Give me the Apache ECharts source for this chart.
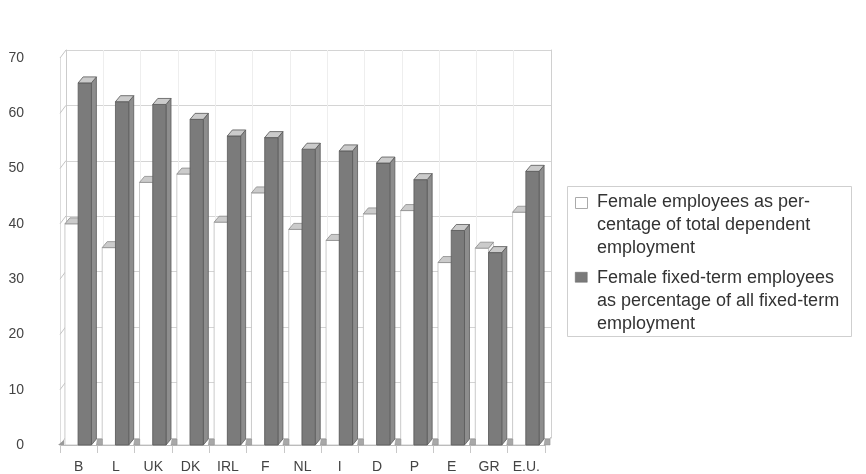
<!DOCTYPE html>
<html>
<head>
<meta charset="utf-8">
<script src="https://cdn.jsdelivr.net/npm/echarts@6/dist/echarts.min.js"></script>
<style>
  html, body { margin: 0; padding: 0; background: #fff; }
  #chart { width: 866px; height: 474px; }
</style>
</head>
<body>
<div id="chart"></div>
<script>
// Member states plus the E.U. average
const countries = ['B', 'L', 'UK', 'DK', 'IRL', 'F', 'NL', 'I', 'D', 'P', 'E', 'GR', 'E.U.'];
// Female employees as % of total dependent employment
const femaleShare = [40.0, 35.7, 47.5, 49.0, 40.3, 45.6, 39.0, 37.0, 41.8, 42.4, 33.0, 35.6, 42.1];
// Female fixed-term employees as % of all fixed-term employment
const femaleFixedTermShare = [65.5, 62.1, 61.6, 58.9, 55.9, 55.6, 53.5, 53.2, 51.0, 48.0, 38.8, 34.8, 49.5];
// Value axis ticks
const valueTicks = [0, 10, 20, 30, 40, 50, 60, 70];
const seriesNames = [
  'Female employees as percentage of total dependent employment',
  'Female fixed-term employees as percentage of all fixed-term employment'
];
const legendLines = [
  ['Female employees as per-', 'centage of total dependent', 'employment'],
  ['Female fixed-term employees', 'as percentage of all fixed-term', 'employment']
];

const FONT = '"Liberation Sans", Arial, Helvetica, sans-serif';
const WALL_DX = 6, WALL_DY = -8;   // back wall offset
const BAR_DX = 5, BAR_DY = -6;     // bar depth

const chart = echarts.init(document.getElementById('chart'), null, { renderer: 'canvas' });

// Pseudo-3D column: front face, right side, top cap
function barRenderer(kind) {
  return function (params, api) {
    const idx = api.value(0);
    const v = api.value(1);
    const top = api.coord([idx, v]);
    const base = api.coord([idx, 0]);
    const band = api.size([1, 0])[0];
    const c = top[0];
    const w = band * 0.355;
    const x0 = kind === 0 ? c - w - 0.5 : c - 0.5;
    const x1 = x0 + w;
    const yT = top[1], yB = base[1];
    const dark = kind === 1;
    const children = [
      {
        type: 'polygon',
        shape: { points: [[x1, yB], [x1 + BAR_DX, yB + BAR_DY], [x1 + BAR_DX, yT + BAR_DY], [x1, yT]] },
        style: { fill: dark ? '#8d8d8d' : '#f4f4f4', stroke: dark ? '#5a5a5a' : '#bbbbbb', lineWidth: 0.8 }
      },
      {
        type: 'rect',
        shape: { x: x0, y: yT, width: w, height: yB - yT },
        style: { fill: dark ? '#7b7b7b' : '#ffffff', stroke: dark ? '#5a5a5a' : '#bdbdbd', lineWidth: 0.8 }
      },
      {
        type: 'polygon',
        shape: { points: [[x0, yT], [x1, yT], [x1 + BAR_DX, yT + BAR_DY], [x0 + BAR_DX, yT + BAR_DY]] },
        style: { fill: '#cbcbcb', stroke: dark ? '#555555' : '#8a8a8a', lineWidth: 0.8 }
      }
    ];
    if (dark) {
      // small floor patch behind the column
      children.push({
        type: 'polygon',
        shape: { points: [[x1 + BAR_DX, yB], [x1 + BAR_DX + 6, yB], [x1 + BAR_DX + 6, yB - 6], [x1 + BAR_DX + 1, yB - 6]] },
        style: { fill: '#a8a8a8', stroke: '#8e8e8e', lineWidth: 0.5 }
      });
    }
    return { type: 'group', children: children };
  };
}

// Slanted tick marks on the left wall, right floor edge
function frameRenderer(params, api) {
  const v = api.value(0);
  const p = api.coord([0, v]);
  const left = params.coordSys.x;
  const right = params.coordSys.x + params.coordSys.width;
  const children = [{
    type: 'line',
    shape: { x1: left, y1: p[1], x2: left + WALL_DX, y2: p[1] + WALL_DY },
    style: { stroke: '#c4c4c4', lineWidth: 1 }
  }];
  if (v === 0) {
    children.push({
      type: 'line',
      shape: { x1: right, y1: p[1], x2: right + WALL_DX, y2: p[1] + WALL_DY },
      style: { stroke: '#c4c4c4', lineWidth: 1 }
    });
    children.push({
      type: 'polygon',
      shape: { points: [[left - 2, p[1]], [left + 4, p[1]], [left + 4, p[1] - 5]] },
      style: { fill: '#9a9a9a' }
    });
  }
  return { type: 'group', children: children, silent: true };
}

const legendGraphic = [
  {
    type: 'rect', left: 567, top: 186,
    shape: { width: 284, height: 150 },
    style: { fill: '#fff', stroke: '#cfcfcf', lineWidth: 1 }
  },
  {
    type: 'rect', left: 575, top: 197,
    shape: { width: 12, height: 11 },
    style: { fill: '#fff', stroke: '#aaaaaa', lineWidth: 1 }
  },
  {
    type: 'rect', left: 575, top: 272,
    shape: { width: 12, height: 10 },
    style: { fill: '#7a7a7a', stroke: '#666', lineWidth: 0.5 }
  },
  {
    type: 'text', left: 597, top: 191,
    style: { text: legendLines[0].join('\n'), font: '18px ' + FONT, lineHeight: 23, fill: '#333' }
  },
  {
    type: 'text', left: 597, top: 267,
    style: { text: legendLines[1].join('\n'), font: '18px ' + FONT, lineHeight: 23, fill: '#333' }
  }
];

const option = {
  backgroundColor: '#ffffff',
  animation: false,
  textStyle: { fontFamily: FONT },
  grid: [
    { left: 60, right: 321, top: 58, bottom: 28 },
    { left: 60 + WALL_DX, right: 321 - WALL_DX, top: 58 + WALL_DY, bottom: 28 - WALL_DY }
  ],
  xAxis: [
    {
      type: 'category', gridIndex: 0, data: countries,
      axisLine: { show: true, lineStyle: { color: '#bdbdbd', width: 1 } },
      axisTick: { show: true, length: 8, lineStyle: { color: '#c8c8c8' } },
      axisLabel: { color: '#444', fontSize: 14, margin: 15, fontFamily: FONT, interval: 0 },
      splitLine: { show: false }
    },
    {
      type: 'category', gridIndex: 1, data: countries,
      axisLine: { show: false }, axisTick: { show: false }, axisLabel: { show: false },
      splitLine: { show: true, lineStyle: { color: '#eeeeee', width: 1 } }
    }
  ],
  yAxis: [
    {
      type: 'value', gridIndex: 0, min: 0, max: 70, interval: 10,
      axisLine: { show: true, lineStyle: { color: '#dddddd' } },
      axisTick: { show: false },
      splitLine: { show: false },
      axisLabel: { color: '#444', fontSize: 14, margin: 36, fontFamily: FONT }
    },
    {
      type: 'value', gridIndex: 1, min: 0, max: 70, interval: 10,
      axisLine: { show: true, lineStyle: { color: '#cccccc' } },
      axisTick: { show: false }, axisLabel: { show: false },
      splitLine: { show: true, lineStyle: { color: '#d4d4d4', width: 1 } }
    },
    {
      type: 'value', gridIndex: 1, min: 0, max: 70, interval: 10, position: 'right',
      axisLine: { show: true, lineStyle: { color: '#d0d0d0' } },
      axisTick: { show: false }, axisLabel: { show: false }, splitLine: { show: false }
    }
  ],
  graphic: legendGraphic,
  series: [
    {
      type: 'custom', name: 'frame', xAxisIndex: 0, yAxisIndex: 0,
      data: valueTicks.map(v => [v]),
      encode: { y: 0 },
      renderItem: frameRenderer, silent: true, z: 1
    },
    {
      type: 'custom', name: seriesNames[0], xAxisIndex: 0, yAxisIndex: 0,
      data: countries.map((c, i) => [i, femaleShare[i]]),
      encode: { x: 0, y: 1 },
      renderItem: barRenderer(0), z: 2
    },
    {
      type: 'custom', name: seriesNames[1], xAxisIndex: 0, yAxisIndex: 0,
      data: countries.map((c, i) => [i, femaleFixedTermShare[i]]),
      encode: { x: 0, y: 1 },
      renderItem: barRenderer(1), z: 3
    }
  ]
};

chart.setOption(option);
</script>
</body>
</html>
